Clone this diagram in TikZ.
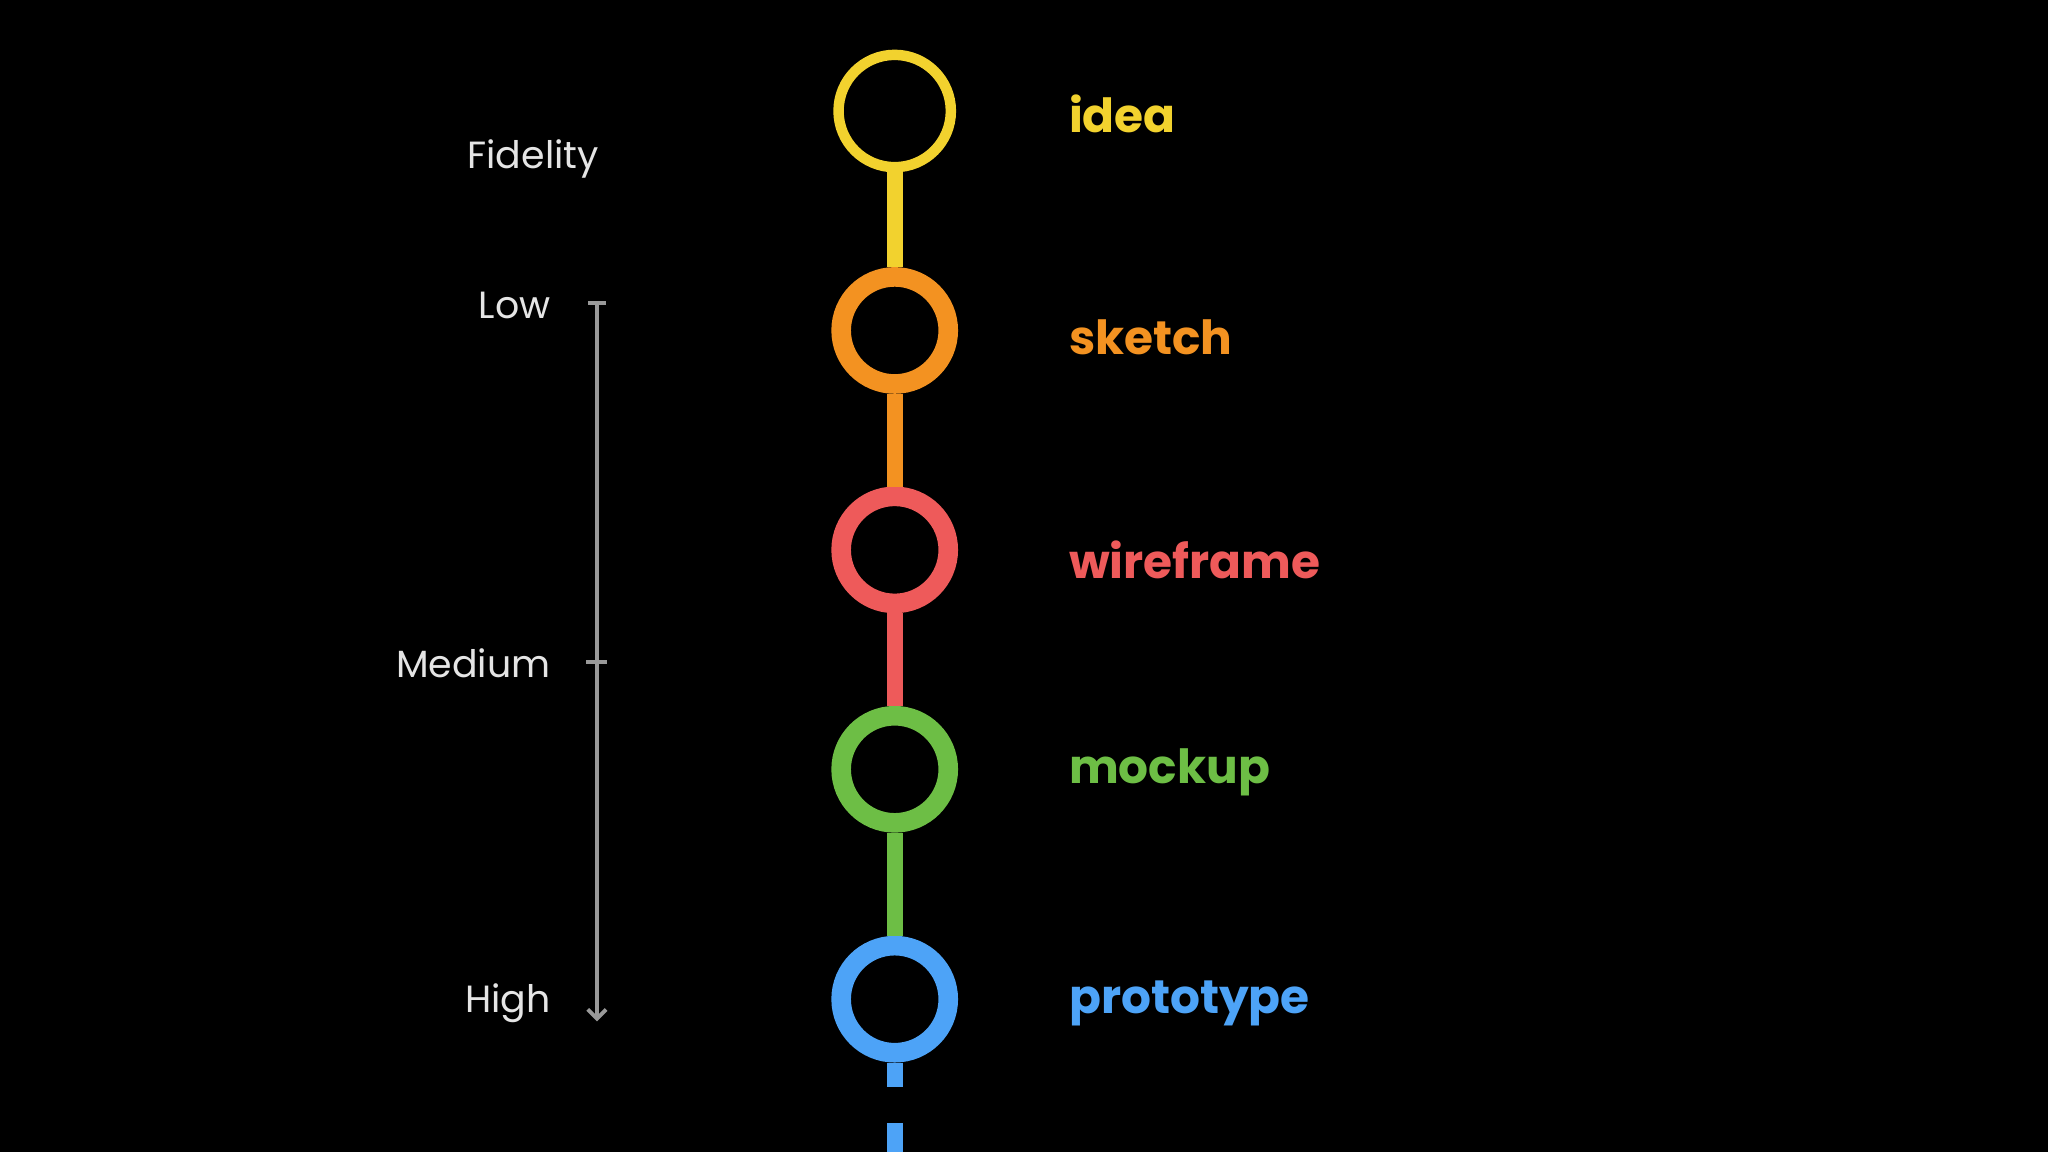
\documentclass[tikz,border=0pt]{standalone}
\usepackage{fontspec}
\usetikzlibrary{arrows.meta}
\setmainfont{Poppins}
\begin{document}
\begin{tikzpicture}[x=1pt,y=-1pt,
  ring/.style={draw=#1,line width=15pt,circle,minimum size=82pt,inner sep=0pt},
  conn/.style={draw=#1,line width=12pt},
  lab/.style={text=#1,anchor=west,font=\bfseries\fontsize{36}{40}\selectfont},
  fid/.style={text=white!90!black,anchor=east,font=\fontsize{29}{32}\selectfont}]
\fill[black] (0,0) rectangle (1568,882);
\useasboundingbox (0,0) rectangle (1568,882);
\definecolor{cy}{HTML}{F2D22E}\definecolor{co}{HTML}{F39221}
\definecolor{cr}{HTML}{EE5A5A}\definecolor{cg}{HTML}{6DBE45}\definecolor{cb}{HTML}{4DA3F7}
\node[ring=cy,line width=8pt,minimum size=86pt] (n1) at (685,85) {};
\node[ring=co] (n2) at (685,253) {};
\node[ring=cr] (n3) at (685,421) {};
\node[ring=cg] (n4) at (685,589) {};
\node[ring=cb] (n5) at (685,765) {};
\draw[conn=cy] (n1) -- (n2);
\draw[conn=co] (n2) -- (n3);
\draw[conn=cr] (n3) -- (n4);
\draw[conn=cg] (n4) -- (n5);
\coordinate (d1) at (685,832); \coordinate (d2) at (685,860); \coordinate (d3) at (685,882);
\draw[conn=cb] (n5) -- (d1);
\draw[conn=cb] (d2) -- (d3);
\node[lab=cy] (t1) at (815,87) {idea};
\node[lab=co] (t2) at (815,258) {sketch};
\node[lab=cr] (t3) at (815,429) {wireframe};
\node[lab=cg] (t4) at (815,591) {mockup};
\node[lab=cb] (t5) at (815,768) {prototype};
\node[fid] (f) at (462,122) {Fidelity};
\node[fid] (lo) at (425,234) {Low};
\node[fid] (me) at (425,508) {Medium};
\node[fid] (hi) at (425,768) {High};
\coordinate (a1) at (457,232); \coordinate (a2) at (457,782);
\draw[gray!80,line width=3pt,-{Straight Barb[length=7pt,width=14pt]}] (a1) -- (a2);
\draw[gray!80,line width=3pt] (450,232) -- (464,232) (449,507) -- (465,507);
\end{tikzpicture}
\end{document}
